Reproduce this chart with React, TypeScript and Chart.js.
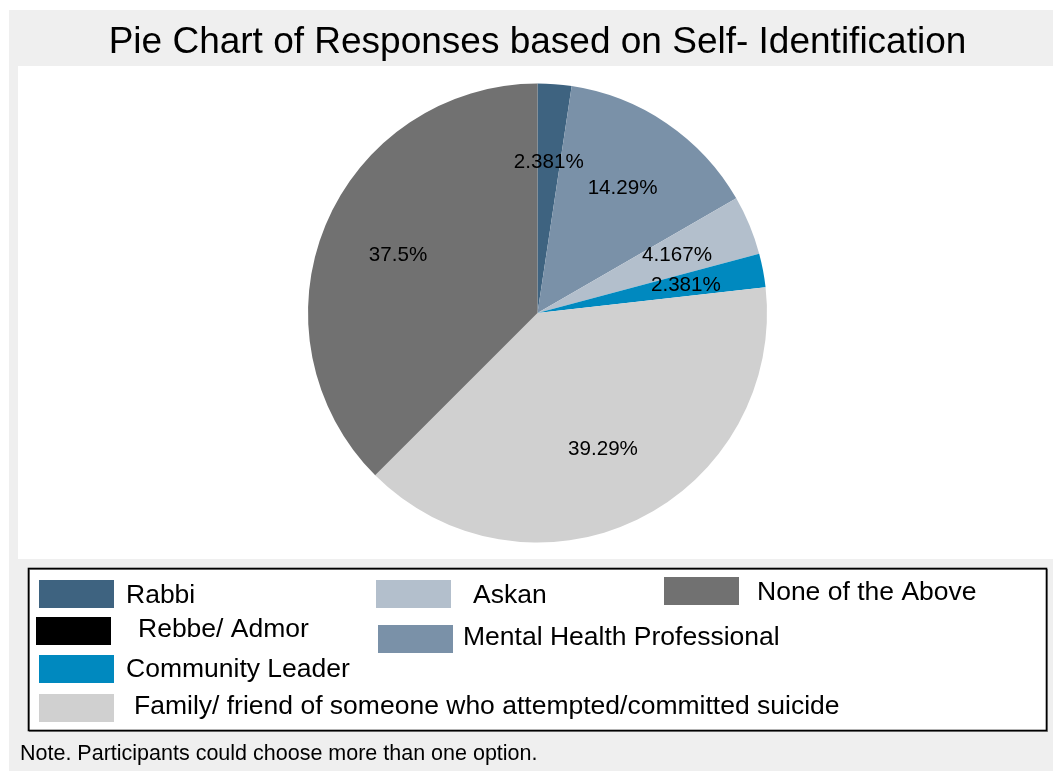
import React, { useEffect, useRef } from "react";
import { Chart, registerables } from "chart.js";

Chart.register(...registerables);

const titleText = "Pie Chart of Responses based on Self- Identification";
const noteText = "Note. Participants could choose more than one option.";
const categories = [
  "Rabbi",
  "Rebbe/ Admor",
  "Mental Health Professional",
  "Askan",
  "Community Leader",
  "Family/ friend of someone who attempted/committed suicide",
  "None of the Above",
];
const percentages = [2.381, 0, 14.29, 4.167, 2.381, 39.29, 37.5];
const sliceColors = ["#3e6380", "#000000", "#7a91a8", "#b3bfcc", "#0089bf", "#d0d0d0", "#717171"];

// legend layout (swatch x, swatch y, text x, text baseline) per category index
const legendLayout = [
  [39, 580, 126, 603],
  [36, 617, 138, 637],
  [378, 625, 463, 645],
  [376, 580, 473, 603],
  [39, 655, 126, 677],
  [39, 694, 134, 714],
  [664, 577, 757, 600],
];

const FONT = "Arial, 'Liberation Sans', sans-serif";

const decorPlugin = {
  id: "decor",
  beforeDraw(chart: any) {
    const ctx = chart.ctx;
    ctx.save();
    ctx.fillStyle = "#ffffff";
    ctx.fillRect(0, 0, 1053, 771);
    ctx.fillStyle = "#efefef";
    ctx.fillRect(9, 10, 1044, 761);
    ctx.fillStyle = "#ffffff";
    ctx.fillRect(18, 66, 1035, 493);
    ctx.restore();
  },
  afterDraw(chart: any) {
    const ctx = chart.ctx;
    ctx.save();
    // title
    ctx.fillStyle = "#000";
    ctx.font = `37px ${FONT}`;
    ctx.textAlign = "center";
    ctx.textBaseline = "alphabetic";
    ctx.fillText(titleText, 537.5, 53);

    // slice labels
    const meta = chart.getDatasetMeta(0);
    ctx.font = `20.6px ${FONT}`;
    ctx.textBaseline = "middle";
    meta.data.forEach((arc: any, i: number) => {
      const v = percentages[i];
      if (!v) return;
      const p = arc.getProps(["x", "y", "startAngle", "endAngle", "outerRadius"], true);
      const mid = (p.startAngle + p.endAngle) / 2;
      const r = p.outerRadius * 0.658;
      ctx.fillText(`${v}%`, p.x + Math.cos(mid) * r, p.y + Math.sin(mid) * r);
    });

    // legend box
    ctx.fillStyle = "#ffffff";
    ctx.fillRect(28, 568, 1018, 162);
    ctx.strokeStyle = "#8a8a8a";
    ctx.lineWidth = 1;
    ctx.strokeRect(29.5, 569.5, 1018, 162);
    ctx.strokeStyle = "#000000";
    ctx.lineWidth = 1.6;
    ctx.strokeRect(28.5, 568.5, 1018, 162);

    ctx.font = `26.5px ${FONT}`;
    ctx.textAlign = "left";
    ctx.textBaseline = "alphabetic";
    categories.forEach((c, i) => {
      const [sx, sy, tx, ty] = legendLayout[i];
      ctx.fillStyle = sliceColors[i];
      ctx.fillRect(sx, sy, 75, 28);
      ctx.fillStyle = "#000";
      ctx.fillText(c, tx, ty);
    });

    // note
    ctx.font = `21.5px ${FONT}`;
    ctx.fillStyle = "#000";
    ctx.fillText(noteText, 20, 760);
    ctx.restore();
  },
};

export default function App() {
  const ref = useRef<HTMLCanvasElement>(null);
  useEffect(() => {
    if (!ref.current) return;
    const chart = new Chart(ref.current, {
      type: "pie",
      data: {
        labels: categories,
        datasets: [
          {
            data: percentages,
            backgroundColor: sliceColors,
            borderWidth: 0,
          },
        ],
      },
      options: {
        responsive: false,
        animation: false,
        devicePixelRatio: 1,
        layout: { padding: { top: 83.5, bottom: 228.5, left: 308, right: 286 } },
        plugins: {
          legend: { display: false },
          tooltip: { enabled: false },
          title: { display: false },
        },
      },
      plugins: [decorPlugin],
    });
    return () => chart.destroy();
  }, []);
  return (
    <div style={{ position: "absolute", left: 0, top: 0, width: 1053, height: 771 }}>
      <canvas ref={ref} width={1053} height={771} style={{ display: "block" }} />
    </div>
  );
}
